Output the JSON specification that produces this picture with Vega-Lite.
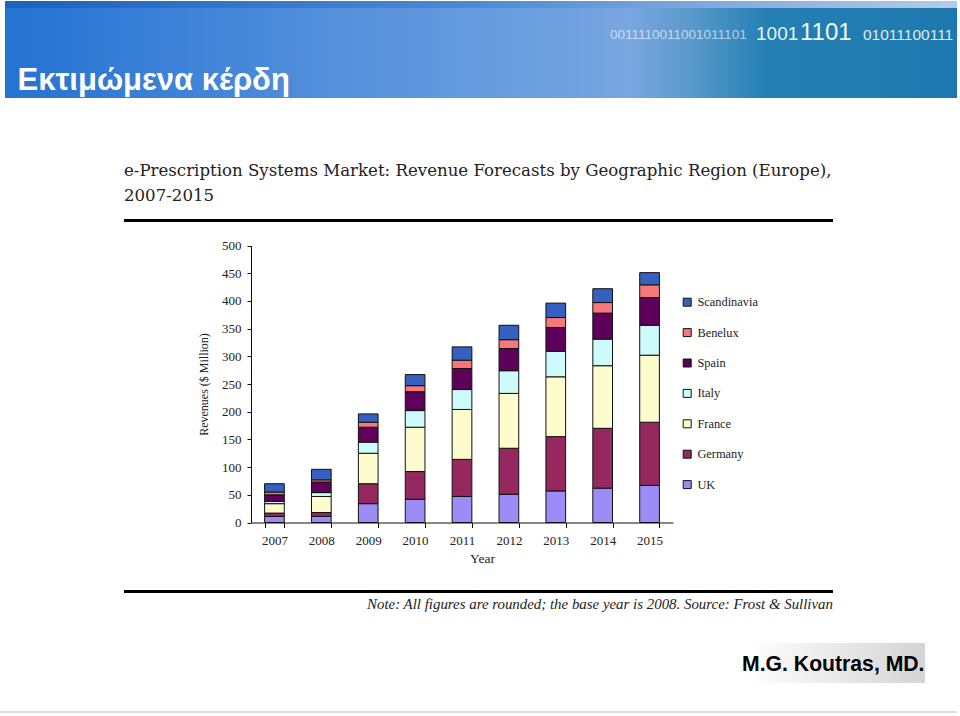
{
  "$schema": "https://vega.github.io/schema/vega-lite/v6.json",
  "background": "white",
  "padding": {"left": 0, "top": 1, "right": 3, "bottom": 0},
  "bounds": "flush",
  "center": true,
  "spacing": 0,
  "config": {"view": {"stroke": null}},
  "datasets": {
    "revenue": [
      {"Year": "2007", "Region": "UK", "Rank": 1, "Revenue": 11},
      {"Year": "2007", "Region": "Germany", "Rank": 2, "Revenue": 6},
      {"Year": "2007", "Region": "France", "Rank": 3, "Revenue": 17},
      {"Year": "2007", "Region": "Italy", "Rank": 4, "Revenue": 4},
      {"Year": "2007", "Region": "Spain", "Rank": 5, "Revenue": 12},
      {"Year": "2007", "Region": "Benelux", "Rank": 6, "Revenue": 5},
      {"Year": "2007", "Region": "Scandinavia", "Rank": 7, "Revenue": 15},
      {"Year": "2008", "Region": "UK", "Rank": 1, "Revenue": 11},
      {"Year": "2008", "Region": "Germany", "Rank": 2, "Revenue": 7},
      {"Year": "2008", "Region": "France", "Rank": 3, "Revenue": 29},
      {"Year": "2008", "Region": "Italy", "Rank": 4, "Revenue": 7},
      {"Year": "2008", "Region": "Spain", "Rank": 5, "Revenue": 19},
      {"Year": "2008", "Region": "Benelux", "Rank": 6, "Revenue": 4},
      {"Year": "2008", "Region": "Scandinavia", "Rank": 7, "Revenue": 19},
      {"Year": "2009", "Region": "UK", "Rank": 1, "Revenue": 34},
      {"Year": "2009", "Region": "Germany", "Rank": 2, "Revenue": 36},
      {"Year": "2009", "Region": "France", "Rank": 3, "Revenue": 55},
      {"Year": "2009", "Region": "Italy", "Rank": 4, "Revenue": 20},
      {"Year": "2009", "Region": "Spain", "Rank": 5, "Revenue": 27},
      {"Year": "2009", "Region": "Benelux", "Rank": 6, "Revenue": 9},
      {"Year": "2009", "Region": "Scandinavia", "Rank": 7, "Revenue": 15},
      {"Year": "2010", "Region": "UK", "Rank": 1, "Revenue": 42},
      {"Year": "2010", "Region": "Germany", "Rank": 2, "Revenue": 50},
      {"Year": "2010", "Region": "France", "Rank": 3, "Revenue": 80},
      {"Year": "2010", "Region": "Italy", "Rank": 4, "Revenue": 30},
      {"Year": "2010", "Region": "Spain", "Rank": 5, "Revenue": 34},
      {"Year": "2010", "Region": "Benelux", "Rank": 6, "Revenue": 11},
      {"Year": "2010", "Region": "Scandinavia", "Rank": 7, "Revenue": 20},
      {"Year": "2011", "Region": "UK", "Rank": 1, "Revenue": 47},
      {"Year": "2011", "Region": "Germany", "Rank": 2, "Revenue": 67},
      {"Year": "2011", "Region": "France", "Rank": 3, "Revenue": 90},
      {"Year": "2011", "Region": "Italy", "Rank": 4, "Revenue": 36},
      {"Year": "2011", "Region": "Spain", "Rank": 5, "Revenue": 38},
      {"Year": "2011", "Region": "Benelux", "Rank": 6, "Revenue": 15},
      {"Year": "2011", "Region": "Scandinavia", "Rank": 7, "Revenue": 24},
      {"Year": "2012", "Region": "UK", "Rank": 1, "Revenue": 51},
      {"Year": "2012", "Region": "Germany", "Rank": 2, "Revenue": 83},
      {"Year": "2012", "Region": "France", "Rank": 3, "Revenue": 99},
      {"Year": "2012", "Region": "Italy", "Rank": 4, "Revenue": 41},
      {"Year": "2012", "Region": "Spain", "Rank": 5, "Revenue": 40},
      {"Year": "2012", "Region": "Benelux", "Rank": 6, "Revenue": 16},
      {"Year": "2012", "Region": "Scandinavia", "Rank": 7, "Revenue": 26},
      {"Year": "2013", "Region": "UK", "Rank": 1, "Revenue": 57},
      {"Year": "2013", "Region": "Germany", "Rank": 2, "Revenue": 98},
      {"Year": "2013", "Region": "France", "Rank": 3, "Revenue": 108},
      {"Year": "2013", "Region": "Italy", "Rank": 4, "Revenue": 46},
      {"Year": "2013", "Region": "Spain", "Rank": 5, "Revenue": 43},
      {"Year": "2013", "Region": "Benelux", "Rank": 6, "Revenue": 18},
      {"Year": "2013", "Region": "Scandinavia", "Rank": 7, "Revenue": 26},
      {"Year": "2014", "Region": "UK", "Rank": 1, "Revenue": 62},
      {"Year": "2014", "Region": "Germany", "Rank": 2, "Revenue": 108},
      {"Year": "2014", "Region": "France", "Rank": 3, "Revenue": 113},
      {"Year": "2014", "Region": "Italy", "Rank": 4, "Revenue": 48},
      {"Year": "2014", "Region": "Spain", "Rank": 5, "Revenue": 47},
      {"Year": "2014", "Region": "Benelux", "Rank": 6, "Revenue": 19},
      {"Year": "2014", "Region": "Scandinavia", "Rank": 7, "Revenue": 25},
      {"Year": "2015", "Region": "UK", "Rank": 1, "Revenue": 67},
      {"Year": "2015", "Region": "Germany", "Rank": 2, "Revenue": 114},
      {"Year": "2015", "Region": "France", "Rank": 3, "Revenue": 121},
      {"Year": "2015", "Region": "Italy", "Rank": 4, "Revenue": 54},
      {"Year": "2015", "Region": "Spain", "Rank": 5, "Revenue": 50},
      {"Year": "2015", "Region": "Benelux", "Rank": 6, "Revenue": 23},
      {"Year": "2015", "Region": "Scandinavia", "Rank": 7, "Revenue": 22}
    ]
  },
  "vconcat": [
    {
      "width": 957,
      "height": 7,
      "data": {"values": [{"part": "top band"}]},
      "mark": {
        "type": "rect",
        "fill": {
          "gradient": "linear", "x1": 0, "x2": 1, "y1": 0, "y2": 0,
          "stops": [
            {"offset": 0, "color": "#ffffff"},
            {"offset": 0.005, "color": "#ffffff"},
            {"offset": 0.0052, "color": "#1a62c0"},
            {"offset": 0.5, "color": "#4d8ad6"},
            {"offset": 1, "color": "#b4cbe8"}
          ]
        }
      }
    },
    {
      "width": 957,
      "height": 90,
      "layer": [
        {
          "data": {"values": [{"part": "banner"}]},
          "mark": {
            "type": "rect",
            "fill": {
              "gradient": "linear", "x1": 0, "x2": 1, "y1": 0, "y2": 0,
              "stops": [
                {"offset": 0, "color": "#ffffff"},
                {"offset": 0.005, "color": "#ffffff"},
                {"offset": 0.0052, "color": "#2472d2"},
                {"offset": 0.35, "color": "#5490dc"},
                {"offset": 0.66, "color": "#78a6e0"},
                {"offset": 0.72, "color": "#5b9acb"},
                {"offset": 0.8, "color": "#2480b4"},
                {"offset": 1, "color": "#1c78ae"}
              ]
            }
          }
        },
        {
          "data": {"values": [{"label": "Εκτιμώμενα κέρδη"}]},
          "mark": {"type": "text", "font": "Liberation Sans", "fontWeight": "bold", "fontSize": 31, "color": "white", "align": "left", "baseline": "middle", "dx": -461, "dy": 28},
          "encoding": {"text": {"field": "label"}}
        },
        {
          "data": {"values": [{"label": "0011110011001011101"}]},
          "mark": {"type": "text", "font": "Liberation Sans", "fontSize": 13.5, "color": "white", "opacity": 0.6, "align": "left", "baseline": "middle", "dx": 131.5, "dy": -18},
          "encoding": {"text": {"field": "label"}}
        },
        {
          "data": {"values": [{"label": "1001"}]},
          "mark": {"type": "text", "font": "Liberation Sans", "fontSize": 19, "color": "white", "opacity": 0.9, "align": "left", "baseline": "middle", "dx": 277.5, "dy": -19},
          "encoding": {"text": {"field": "label"}}
        },
        {
          "data": {"values": [{"label": "1101"}]},
          "mark": {"type": "text", "font": "Liberation Sans", "fontSize": 24, "color": "white", "opacity": 0.95, "align": "left", "baseline": "middle", "dx": 321.5, "dy": -20},
          "encoding": {"text": {"field": "label"}}
        },
        {
          "data": {"values": [{"label": "01011100111"}]},
          "mark": {"type": "text", "font": "Liberation Sans", "fontSize": 15.5, "color": "white", "opacity": 0.85, "align": "left", "baseline": "middle", "dx": 384.5, "dy": -18},
          "encoding": {"text": {"field": "label"}}
        }
      ]
    },
    {
      "width": 957,
      "height": 121,
      "data": {"values": [{"part": "gap"}]},
      "mark": {"type": "rect", "opacity": 0}
    },
    {
      "width": 709,
      "height": 3,
      "title": {
        "text": ["e-Prescription Systems Market: Revenue Forecasts by Geographic Region (Europe),", "2007-2015"],
        "anchor": "start",
        "frame": "group",
        "font": "DejaVu Serif",
        "fontWeight": "normal",
        "fontSize": 16.6,
        "lineHeight": 25,
        "color": "#222222",
        "offset": 14
      },
      "data": {"values": [{"part": "upper rule"}]},
      "mark": {"type": "rect", "fill": "black"}
    },
    {
      "width": 957,
      "height": 368,
      "data": {"name": "revenue"},
      "mark": {"type": "bar", "stroke": "#111111", "strokeWidth": 1},
      "encoding": {
        "x": {
          "field": "Year",
          "type": "ordinal",
          "scale": {"range": [251, 673], "paddingInner": 0.58, "paddingOuter": 0.29},
          "axis": {
            "offset": -67.5,
            "labelAngle": 0,
            "labelFont": "Liberation Serif",
            "labelFontSize": 13,
            "labelColor": "#222222",
            "labelPadding": 7,
            "tickBand": "extent",
            "tickSize": 5,
            "tickColor": "#111111",
            "domainColor": "#111111",
            "title": "Year",
            "titleFont": "Liberation Serif",
            "titleFontSize": 13.5,
            "titleFontWeight": "normal",
            "titleColor": "#222222",
            "titleX": 482,
            "titlePadding": 4
          }
        },
        "y": {
          "field": "Revenue",
          "type": "quantitative",
          "stack": "zero",
          "scale": {"domain": [0, 500], "range": [300.5, 23.5]},
          "axis": {
            "offset": -251,
            "values": [0, 50, 100, 150, 200, 250, 300, 350, 400, 450, 500],
            "grid": false,
            "labelFont": "Liberation Serif",
            "labelFontSize": 13,
            "labelColor": "#222222",
            "labelPadding": 6,
            "tickSize": 4,
            "tickColor": "#111111",
            "domainColor": "#111111",
            "title": "Revenues ($ Million)",
            "titleFont": "Liberation Serif",
            "titleFontSize": 12,
            "titleFontWeight": "normal",
            "titleColor": "#222222",
            "titlePadding": 11
          }
        },
        "color": {
          "field": "Region",
          "type": "nominal",
          "scale": {
            "domain": ["Scandinavia", "Benelux", "Spain", "Italy", "France", "Germany", "UK"],
            "range": ["#3560c0", "#f5797a", "#5c005c", "#cdfbfb", "#fdfccc", "#95285f", "#9c8cf5"]
          },
          "legend": {
            "orient": "none",
            "legendX": 681,
            "legendY": 295,
            "title": null,
            "symbolType": "square",
            "symbolSize": 64,
            "symbolStrokeColor": "#111111",
            "symbolStrokeWidth": 1,
            "labelFont": "Liberation Serif",
            "labelFontSize": 12.4,
            "labelColor": "#222222",
            "labelOffset": 4,
            "rowPadding": 17.4
          }
        },
        "order": {"field": "Rank", "type": "quantitative"}
      }
    },
    {
      "width": 709,
      "height": 3,
      "title": {
        "text": "Note: All figures are rounded; the base year is 2008. Source: Frost & Sullivan",
        "orient": "bottom",
        "anchor": "end",
        "frame": "group",
        "font": "Liberation Serif",
        "fontStyle": "italic",
        "fontWeight": "normal",
        "fontSize": 14.9,
        "color": "#222222",
        "offset": 4
      },
      "data": {"values": [{"part": "lower rule"}]},
      "mark": {"type": "rect", "fill": "black"}
    },
    {
      "width": 957,
      "height": 50,
      "data": {"values": [{"part": "gap"}]},
      "mark": {"type": "rect", "opacity": 0}
    },
    {
      "width": 957,
      "height": 40,
      "layer": [
        {
          "data": {"values": [{"part": "name box"}]},
          "mark": {
            "type": "rect",
            "fill": {
              "gradient": "linear", "x1": 0, "x2": 1, "y1": 0, "y2": 0,
              "stops": [
                {"offset": 0, "color": "#ffffff"},
                {"offset": 0.78, "color": "#ffffff"},
                {"offset": 0.966, "color": "#d4d4d4"},
                {"offset": 0.9665, "color": "#ffffff"},
                {"offset": 1, "color": "#ffffff"}
              ]
            }
          }
        },
        {
          "data": {"values": [{"label": "M.G. Koutras, MD."}]},
          "mark": {"type": "text", "font": "Liberation Sans", "fontWeight": "bold", "fontSize": 21.2, "color": "black", "align": "right", "baseline": "middle", "dx": 446, "dy": 2},
          "encoding": {"text": {"field": "label"}}
        }
      ]
    },
    {
      "width": 957,
      "height": 28,
      "data": {"values": [{"part": "gap"}]},
      "mark": {"type": "rect", "opacity": 0}
    },
    {
      "width": 957,
      "height": 2,
      "data": {"values": [{"part": "page edge"}]},
      "mark": {"type": "rect", "fill": "#dddddd"}
    }
  ]
}
